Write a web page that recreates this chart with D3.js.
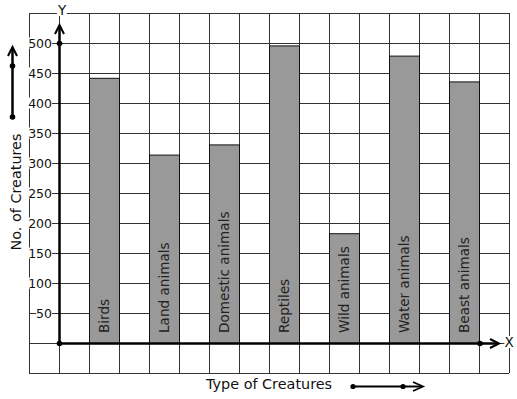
<!DOCTYPE html>
<html>
<head>
<meta charset="utf-8">
<script src="https://cdn.jsdelivr.net/npm/d3@7"></script>
<style>
  body { margin: 0; background: #fff; }
  svg { display: block; font-family: "DejaVu Sans", sans-serif; }
</style>
</head>
<body>
<svg id="chart" width="517" height="399"></svg>
<script>
var categories = ["Birds", "Land animals", "Domestic animals", "Reptiles", "Wild animals", "Water animals", "Beast animals"];
var creatures = [442, 314, 331, 496, 183, 479, 436];
var yTicks = [50, 100, 150, 200, 250, 300, 350, 400, 450, 500];

var svg = d3.select("#chart");

// 30px per grid cell, 50 units per row
var y = d3.scaleLinear().domain([0, 500]).range([343, 43]);
var x = d3.scaleBand().domain(categories).range([59, 509])
  .paddingInner(0.5).paddingOuter(0.5);
var gridX = d3.scaleLinear().domain([0, 16]).range([29, 509]);

var gridColor = "#333";

// grid
var grid = svg.append("g");
d3.range(-50, 551, 50).forEach(function(v) {
  grid.append("line")
    .attr("x1", 29).attr("x2", 509)
    .attr("y1", y(v) + 0.5).attr("y2", y(v) + 0.5)
    .attr("stroke", gridColor);
});
d3.range(0, 17).forEach(function(i) {
  grid.append("line")
    .attr("x1", gridX(i) + 0.5).attr("x2", gridX(i) + 0.5)
    .attr("y1", y(550)).attr("y2", y(-50))
    .attr("stroke", gridColor);
});

// bars
svg.append("g").selectAll("rect")
  .data(categories)
  .join("rect")
  .attr("x", function(d) { return x(d) + 0.5; })
  .attr("y", function(d, i) { return y(creatures[i]) + 0.5; })
  .attr("width", x.bandwidth())
  .attr("height", function(d, i) { return y(0) - y(creatures[i]); })
  .attr("fill", "#999")
  .attr("stroke", "#111");

// bar labels, written upward from the bottom of each bar
svg.append("g").selectAll("text")
  .data(categories)
  .join("text")
  .attr("transform", function(d) {
    return "translate(" + (x(d) + x.bandwidth() / 2 + 4.5) + "," + (y(0) - 10) + ") rotate(-90)";
  })
  .attr("font-size", 13.6)
  .attr("fill", "#222")
  .text(function(d) { return d; });

// y tick labels with white backing so the grid line stops at them
function maskedText(g, tx, ty, anchor, size, str) {
  var t = g.append("text")
    .attr("x", tx).attr("y", ty)
    .attr("text-anchor", anchor)
    .attr("dominant-baseline", "central")
    .attr("font-size", size)
    .attr("fill", "#111")
    .text(str);
  var b = t.node().getBBox();
  g.insert("rect", "text")
    .attr("x", b.x).attr("y", b.y + 2)
    .attr("width", b.width).attr("height", b.height - 4)
    .attr("fill", "#fff");
  return t;
}

var ticks = svg.append("g");
yTicks.forEach(function(v) {
  var g = ticks.append("g");
  maskedText(g, 52, y(v), "end", 12.5, v);
});

// axes
var axis = svg.append("g").attr("stroke", "#000").attr("fill", "none");
axis.append("line").attr("x1", 59.5).attr("x2", 59.5).attr("y1", y(0)).attr("y2", 26).attr("stroke-width", 2.5);
axis.append("path").attr("d", "M55,34L59.5,25L64,34").attr("stroke-width", 2);
axis.append("line").attr("x1", 59).attr("x2", 498).attr("y1", y(0) + 0.5).attr("y2", y(0) + 0.5).attr("stroke-width", 2.5);
axis.append("path").attr("d", "M490,339L499,343.5L490,348").attr("stroke-width", 2);

var dots = [[59.5, y(500) + 0.5], [59.5, y(0) + 0.5], [480, y(0) + 0.5]];
svg.append("g").selectAll("circle")
  .data(dots)
  .join("circle")
  .attr("cx", function(d) { return d[0]; })
  .attr("cy", function(d) { return d[1]; })
  .attr("r", 2.8)
  .attr("fill", "#000");

maskedText(svg.append("g"), 62, 10, "middle", 13.5, "Y");
maskedText(svg.append("g"), 509, 342, "middle", 13.5, "X");

// y title with arrow
svg.append("text")
  .attr("transform", "translate(21,192) rotate(-90)")
  .attr("text-anchor", "middle")
  .attr("font-size", 14.4)
  .attr("fill", "#111")
  .text("No. of Creatures");

var side = svg.append("g").attr("stroke", "#000").attr("fill", "none");
side.append("line").attr("x1", 12.5).attr("x2", 12.5).attr("y1", 117).attr("y2", 48).attr("stroke-width", 2.5);
side.append("path").attr("d", "M8,56L12.5,47L17,56").attr("stroke-width", 2);
svg.append("circle").attr("cx", 12.5).attr("cy", 66).attr("r", 2.8).attr("fill", "#000");
svg.append("circle").attr("cx", 12.5).attr("cy", 117).attr("r", 2.8).attr("fill", "#000");

// x title with arrow
svg.append("text")
  .attr("x", 206).attr("y", 389)
  .attr("font-size", 14.4)
  .attr("fill", "#111")
  .text("Type of Creatures");

var bottom = svg.append("g").attr("stroke", "#000").attr("fill", "none");
bottom.append("line").attr("x1", 353).attr("x2", 422).attr("y1", 386.5).attr("y2", 386.5).attr("stroke-width", 2);
bottom.append("path").attr("d", "M413,382L423,386.5L413,391").attr("stroke-width", 1.8);
svg.append("circle").attr("cx", 353).attr("cy", 386.5).attr("r", 2.6).attr("fill", "#000");
svg.append("circle").attr("cx", 403).attr("cy", 386.5).attr("r", 2.6).attr("fill", "#000");
</script>
</body>
</html>
